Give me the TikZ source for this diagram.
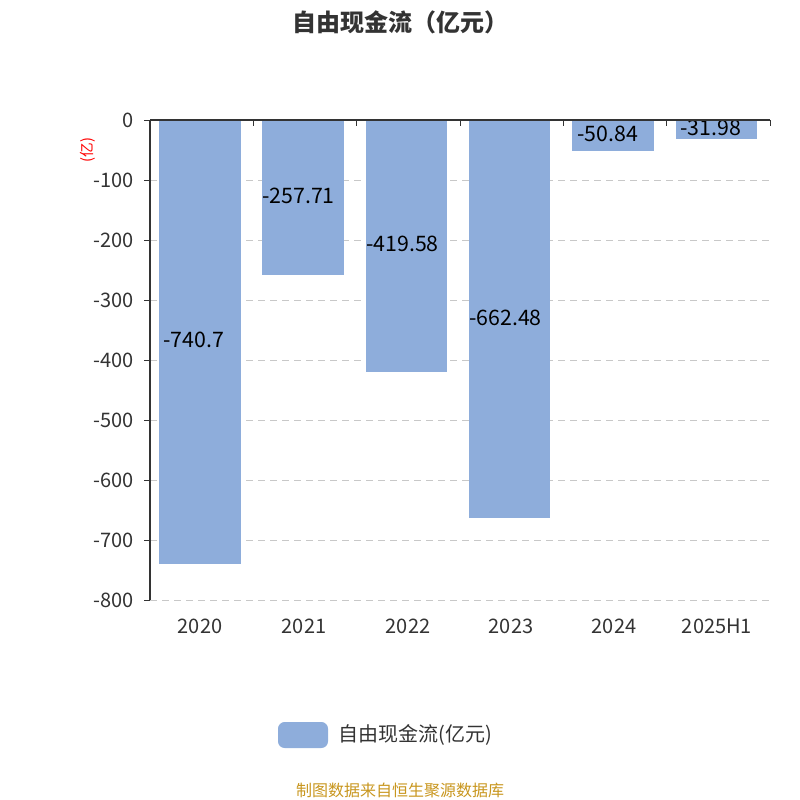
\documentclass[tikz,border=0pt]{standalone}
\usepackage{fontspec}
\setmainfont{Noto Sans CJK SC}
\begin{document}
\begin{tikzpicture}[x=0.75pt,y=-0.75pt,
  bar/.style={fill=barc,draw=none},
  val/.style={anchor=west,font=\fontsize{16}{16}\selectfont,text=black,inner sep=0pt},
  tl/.style={anchor=east,font=\fontsize{15}{15}\selectfont,text=axc,inner sep=0pt},
  cl/.style={font=\fontsize{15}{15}\selectfont,text=axc,inner sep=0pt}]
\definecolor{barc}{HTML}{8EADDB}
\definecolor{axc}{HTML}{333333}
\definecolor{gridc}{HTML}{C8C8C8}
\definecolor{footc}{HTML}{C8961E}
\useasboundingbox (0,0) rectangle (800,800);
\node[font=\bfseries\fontsize{18}{18}\selectfont,text=axc] (title) at (400,22) {自由现金流（亿元）};
\foreach \v in {1,...,8}{
  \draw[gridc,dashed,dash pattern=on 5pt off 4pt] (150,120+60*\v) -- (770,120+60*\v);
}
\foreach \v in {0,...,8}{
  \draw[axc] (144,120+60*\v) -- (150,120+60*\v);
  \pgfmathtruncatemacro{\lab}{-100*\v}
  \node[tl] at (134,120+60*\v) {\lab};
}
% bars
\fill[barc] (159,120) rectangle (241,564.4);
\fill[barc] (262,120) rectangle (344,274.6);
\fill[barc] (366,120) rectangle (447,371.7);
\fill[barc] (469,120) rectangle (550,517.5);
\fill[barc] (572,120) rectangle (654,150.5);
\fill[barc] (676,120) rectangle (757,139.2);
\node[val] (v1) at (163,340) {-740.7};
\node[val] (v2) at (262,196) {-257.71};
\node[val] (v3) at (366,244) {-419.58};
\node[val] (v4) at (469,318) {-662.48};
\node[val] (v5) at (577,134) {-50.84};
\node[val] (v6) at (680,128) {-31.98};
% axes
\draw[axc,thick] (150,120) -- (150,600);
\draw[axc,thick] (150,120) -- (770,120);
\foreach \x in {150,253.3,356.7,460,563.3,666.7,770}{
  \draw[axc] (\x,120) -- (\x,126);
}
\node[cl] at (200,626) {2020};
\node[cl] at (304,626) {2021};
\node[cl] at (408,626) {2022};
\node[cl] at (511,626) {2023};
\node[cl] at (614,626) {2024};
\node[cl] at (717,626) {2025H1};
\node[rotate=90,text=red,font=\fontsize{11}{11}\selectfont,inner sep=0pt] (unit) at (88,150) {(亿)};
% legend
\fill[barc,rounded corners=5pt] (278,722) rectangle (328,748);
\node[anchor=west,cl] (leg) at (338,735) {自由现金流(亿元)};
\node[text=footc,font=\fontsize{12}{12}\selectfont] (foot) at (400,790) {制图数据来自恒生聚源数据库};
\end{tikzpicture}
\end{document}
